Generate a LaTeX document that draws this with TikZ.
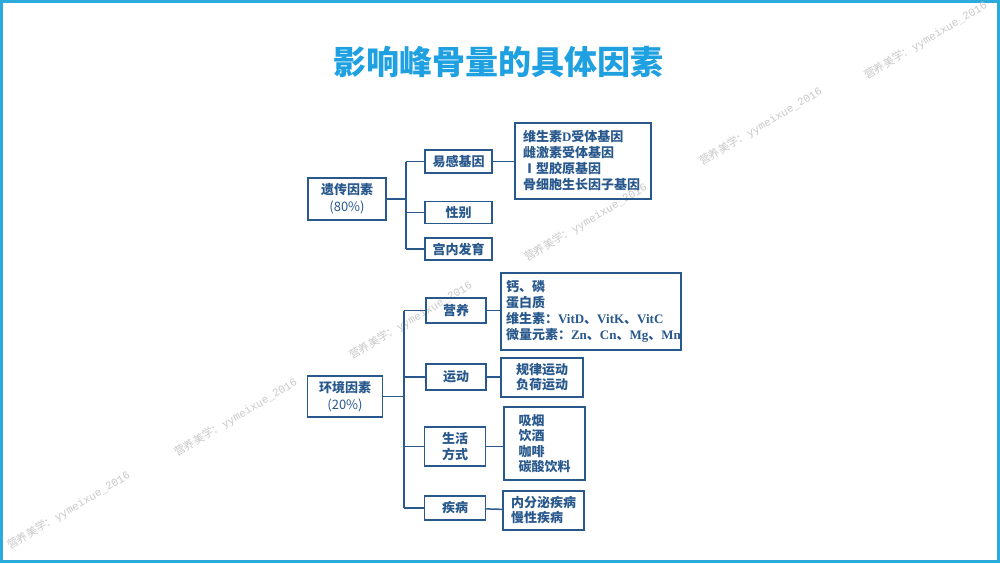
\documentclass[tikz,border=0pt]{standalone}
\usepackage{fontspec}
\usepackage{xcolor}
\setmainfont{Liberation Serif}
\newfontfamily\cjk{Noto Sans CJK SC}
\newfontfamily\wmmono{Liberation Mono}
\definecolor{framecol}{RGB}{45,170,220}
\definecolor{titlecol}{RGB}{30,160,225}
\definecolor{boxcol}{RGB}{40,88,140}
\definecolor{markcol}{RGB}{200,200,200}

\begin{document}
\begin{tikzpicture}[x=1pt,y=-1pt,
    box/.style={draw=boxcol,line width=1.5pt,text=boxcol,inner sep=0pt,align=center,
                font=\cjk\bfseries\fontsize{13}{16}\selectfont},
    wmark/.style={text=markcol,rotate=31,anchor=base west,inner sep=0pt,
                font=\cjk\fontsize{11}{11}\selectfont}]
  \useasboundingbox (0,0) rectangle (1000,563);
  \draw[framecol,line width=3pt] (1.5,1.5) rectangle (998.5,561.5);

  % watermarks
  \node[wmark] (wm1) at (10,550)  {营养美学：{\wmmono yymeixue\_2016}};
  \node[wmark] (wm2) at (177,457) {营养美学：{\wmmono yymeixue\_2016}};
  \node[wmark] (wm3) at (352,360) {营养美学：{\wmmono yymeixue\_2016}};
  \node[wmark] (wm4) at (527,262) {营养美学：{\wmmono yymeixue\_2016}};
  \node[wmark] (wm5) at (702,166) {营养美学：{\wmmono yymeixue\_2016}};
  \node[wmark] (wm6) at (867,80)  {营养美学：{\wmmono yymeixue\_2016}};

  \node[text=titlecol,font=\cjk\bfseries\fontsize{33}{33}\selectfont] (title) at (498,62) {影响峰骨量的具体因素};

  % genetic part
  \node[box,minimum width=78pt,minimum height=42pt,font=\cjk\bfseries\fontsize{13}{17}\selectfont] (gen) at (347,199) {遗传因素\\{\mdseries (80\%)}};
  \node[box,minimum width=67pt,minimum height=23pt] (g1) at (458.5,161.5) {易感基因};
  \node[box,minimum width=67pt,minimum height=22pt] (g2) at (458.5,212.5) {性别};
  \node[box,minimum width=67pt,minimum height=22pt] (g3) at (458.5,249)   {宫内发育};
  \node[box,minimum width=136pt,minimum height=76pt,text width=120pt,align=left] (gd) at (583,161)
        {维生素{\rmfamily D}受体基因\\雌激素受体基因\\Ⅰ型胶原基因\\骨细胞生长因子基因};

  % environment part
  \node[box,minimum width=75pt,minimum height=41pt,font=\cjk\bfseries\fontsize{13}{17}\selectfont] (env) at (345,396.5) {环境因素\\{\mdseries (20\%)}};
  \node[box,minimum width=60pt,minimum height=25pt] (e1) at (456,310.5) {营养};
  \node[box,minimum width=60pt,minimum height=26pt] (e2) at (456,377)   {运动};
  \node[box,minimum width=61pt,minimum height=39pt] (e3) at (455,446.5) {生活\\方式};
  \node[box,minimum width=61pt,minimum height=24pt] (e4) at (455,508)   {疾病};
  \node[box,minimum width=180pt,minimum height=77pt,text width=170pt,align=left] (ed1) at (591,311.5)
        {钙、磷\\蛋白质\\维生素：{\rmfamily VitD}、{\rmfamily VitK}、{\rmfamily VitC}\\微量元素：{\rmfamily Zn}、{\rmfamily Cn}、{\rmfamily Mg}、{\rmfamily Mn}};
  \node[box,minimum width=82pt,minimum height=39pt,font=\cjk\bfseries\fontsize{13}{15}\selectfont] (ed2) at (542,377.5) {规律运动\\负荷运动};
  \node[box,minimum width=81pt,minimum height=73pt,text width=52pt,align=left,font=\cjk\bfseries\fontsize{13}{15.5}\selectfont] (ed3) at (544.5,443.5)
        {吸烟\\饮酒\\咖啡\\碳酸饮料};
  \node[box,minimum width=81pt,minimum height=39pt,text width=65pt,align=left,font=\cjk\bfseries\fontsize{13}{15}\selectfont] (ed4) at (543.5,510.5)
        {内分泌疾病\\慢性疾病};

  \coordinate (gt1) at (406,161.5);
  \coordinate (gt3) at (406,249);
  \coordinate (et1) at (404,310.5);
  \coordinate (et4) at (404,508);

  \tikzset{link/.style={-,draw=boxcol,line width=1.5pt}}
  \path (gen)   edge [link] (gen -| gt1)
        (g1)    edge [link] (gt1)
        (gt1)   edge [link] (gt3)
        (g2)    edge [link] (g2 -| gt1)
        (g3)    edge [link] (gt3)
        (g1)    edge [link] (g1 -| gd.west)
        (env)   edge [link] (env -| et1)
        (e1)    edge [link] (et1)
        (et1)   edge [link] (et4)
        (e2)    edge [link] (e2 -| et1)
        (e3)    edge [link] (e3 -| et1)
        (e4)    edge [link] (et4)
        (e1)    edge [link] (e1 -| ed1.west)
        (e2)    edge [link] (e2 -| ed2.west)
        (e3)    edge [link] (e3 -| ed3.west)
        (e4)    edge [link] (ed4);
\end{tikzpicture}
\end{document}
